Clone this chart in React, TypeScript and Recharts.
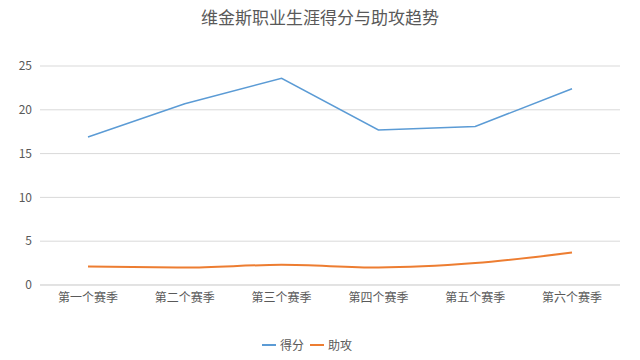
import React from "react";
import { LineChart, Line, XAxis, YAxis, CartesianGrid, Legend } from "recharts";

const seasons = ["第一个赛季", "第二个赛季", "第三个赛季", "第四个赛季", "第五个赛季", "第六个赛季"];
const points = [16.9, 20.7, 23.6, 17.7, 18.1, 22.4];
const assists = [2.1, 2.0, 2.3, 2.0, 2.5, 3.7];
const yTicks = [0, 5, 10, 15, 20, 25];
const seriesNames = ["得分", "助攻"];
const seriesColors = ["#5B9BD5", "#ED7D31"];

const data = seasons.map((s, i) => ({ season: s, 得分: points[i], 助攻: assists[i] }));

const FONT = '"Noto Sans CJK SC", "Noto Sans", sans-serif';

const LegendContent = () => (
  <div style={{ display: "flex", justifyContent: "center", alignItems: "center", fontSize: 12, color: "#595959", fontFamily: FONT }}>
    {seriesNames.map((n, i) => (
      <span key={n} style={{ display: "inline-flex", alignItems: "center", marginRight: 6 }}>
        <span style={{ display: "inline-block", width: 14, height: 2, background: seriesColors[i], marginRight: 4 }} />
        {n}
      </span>
    ))}
  </div>
);

export default function App() {
  return (
    <div style={{ position: "absolute", left: 0, top: 0, width: 640, height: 360, background: "#fff", fontFamily: FONT }}>
      <div style={{ position: "absolute", top: 4, left: 0, width: 640, textAlign: "center", fontSize: 17, color: "#595959" }}>
        维金斯职业生涯得分与助攻趋势
      </div>
      <LineChart width={640} height={360} data={data} margin={{ top: 66, right: 20, bottom: 28, left: 0 }}>
        <CartesianGrid vertical={false} stroke="#D9D9D9" />
        <XAxis
          dataKey="season"
          axisLine={{ stroke: "#D9D9D9" }}
          tickLine={false}
          tick={{ fill: "#595959", fontSize: 12, fontFamily: FONT }}
          height={30}
          interval={0}
          padding={{ left: 48, right: 48 }}
        />
        <YAxis
          domain={[0, 25]}
          ticks={yTicks}
          axisLine={false}
          tickLine={false}
          width={40}
          tick={{ fill: "#595959", fontSize: 12, fontFamily: FONT }}
        />
        <Legend verticalAlign="bottom" align="center" wrapperStyle={{ top: 336 }} content={<LegendContent />} />
        <Line type="linear" dataKey="得分" stroke="#5B9BD5" strokeWidth={1.5} dot={false} isAnimationActive={false} />
        <Line type="monotone" dataKey="助攻" stroke="#ED7D31" strokeWidth={2} dot={false} isAnimationActive={false} />
      </LineChart>
    </div>
  );
}
